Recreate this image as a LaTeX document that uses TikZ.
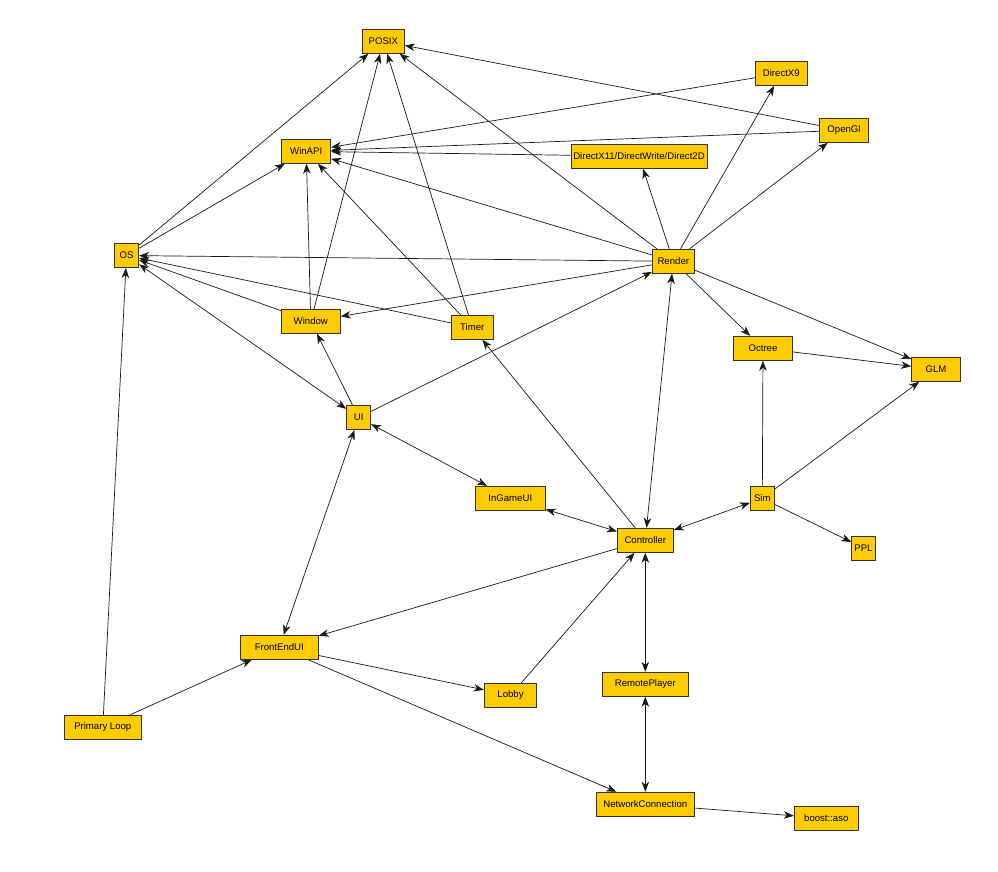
\documentclass[tikz,border=0pt]{standalone}
\usepackage{fontspec}
\setmainfont{Liberation Sans}
\usetikzlibrary{arrows.meta}
\definecolor{boxfill}{HTML}{FFCC00}
\definecolor{boxline}{HTML}{333333}
\tikzset{
  box/.style={draw=boxline, line width=0.9pt, fill=boxfill, inner sep=0pt,
    minimum height=24pt, font=\fontsize{9.6pt}{11pt}\selectfont, text=black},
  w/.style={minimum width=#1},
  tip/.tip={Stealth[length=10pt,width=7.5pt,inset=3pt]},
  arr/.style={line width=0.7pt, draw=black!90, -tip},
  biarr/.style={line width=0.7pt, draw=black!90, tip-tip}
}
\begin{document}
\begin{tikzpicture}[x=1pt,y=-1pt]
\useasboundingbox[fill=white] (0,0) rectangle (998,871);
% nodes
\node[box,w=42pt]  (POSIX)      at (383.3,41.3)  {POSIX};
\node[box,w=49pt]  (WinAPI)     at (306.2,151.3) {WinAPI};
\node[box,w=136pt] (DX11)       at (639,156.3)   {DirectX11/DirectWrite/Direct2D};
\node[box,w=52pt]  (DirectX9)   at (781.3,73.5)  {DirectX9};
\node[box,w=49.4pt](OpenGl)     at (844,130.3)   {OpenGl};
\node[box,w=24.4pt](OS)         at (126.5,255.5) {OS};
\node[box,w=42pt]  (Render)     at (673.3,261.3) {Render};
\node[box,w=59pt]  (Window)     at (310.8,321.3) {Window};
\node[box,w=42pt]  (Timer)      at (472.3,327.3) {Timer};
\node[box,w=24pt]  (UI)         at (358.7,417.5) {UI};
\node[box,w=59.4pt](Octree)     at (763,348.3)   {Octree};
\node[box,w=48.6pt](GLM)        at (936,369.3)   {GLM};
\node[box,w=70pt]  (InGameUI)   at (510.3,498.3) {InGameUI};
\node[box,w=56pt]  (Controller) at (645.3,540.3) {Controller};
\node[box,w=24pt]  (Sim)        at (762.3,498.3) {Sim};
\node[box,w=23.6pt](PPL)        at (863.5,548)   {PPL};
\node[box,w=78pt]  (FrontEndUI) at (279.3,647.3) {FrontEndUI};
\node[box,w=77pt]  (PrimaryLoop) at (102.8,727.2) {Primary Loop};
\node[box,w=52.4pt](Lobby)      at (510.5,695.3) {Lobby};
\node[box,w=86pt]  (RemotePlayer) at (645.3,684.3) {RemotePlayer};
\node[box,w=98pt]  (NetConn)    at (645.3,804.2) {NetworkConnection};
\node[box,w=64pt]  (boost)      at (826.3,818.3) {boost::aso};
% edges
\draw[arr] (OS) -- (POSIX);
\draw[arr] (OS) -- (WinAPI);
\draw[arr] (Window) -- (WinAPI);
\draw[arr] (Window) -- (POSIX);
\draw[arr] (Timer) -- (POSIX);
\draw[arr] (Timer) -- (WinAPI);
\draw[arr] (Render) -- (POSIX);
\draw[arr] (DirectX9) -- (WinAPI);
\draw[arr] (OpenGl) -- (POSIX);
\draw[arr] (OpenGl) -- (WinAPI);
\draw[arr] (DX11) -- (WinAPI);
\draw[arr] (Render) -- (WinAPI);
\draw[arr] (Render) -- (DX11);
\draw[arr] (Render) -- (DirectX9);
\draw[arr] (Render) -- (OpenGl);
\draw[arr] (Render) -- (OS);
\draw[arr] (Render) -- (Window);
\draw[arr] (Window) -- (OS);
\draw[arr] (Timer) -- (OS);
\draw[biarr] (UI) -- (OS);
\draw[arr] (UI) -- (Window);
\draw[arr] (UI) -- (Render);
\draw[biarr] (UI) -- (InGameUI);
\draw[biarr] (UI) -- (FrontEndUI);
\draw[biarr] (InGameUI) -- (Controller);
\draw[arr] (Controller) -- (Timer);
\draw[biarr] (Render) -- (Controller);
\draw[biarr] (Controller) -- (Sim);
\draw[arr] (Render) -- (Octree);
\draw[arr] (Render) -- (GLM);
\draw[arr] (Octree) -- (GLM);
\draw[arr] (Sim) -- (Octree);
\draw[arr] (Sim) -- (GLM);
\draw[arr] (Sim) -- (PPL);
\draw[arr] (Controller) -- (FrontEndUI);
\draw[arr] (Lobby) -- (Controller);
\draw[biarr] (Controller) -- (RemotePlayer);
\draw[biarr] (RemotePlayer) -- (NetConn);
\draw[arr] (FrontEndUI) -- (Lobby);
\draw[arr] (FrontEndUI) -- (NetConn);
\draw[arr] (NetConn) -- (boost);
\draw[arr] (PrimaryLoop) -- (OS);
\draw[arr] (PrimaryLoop) -- (FrontEndUI);
\end{tikzpicture}
\end{document}
